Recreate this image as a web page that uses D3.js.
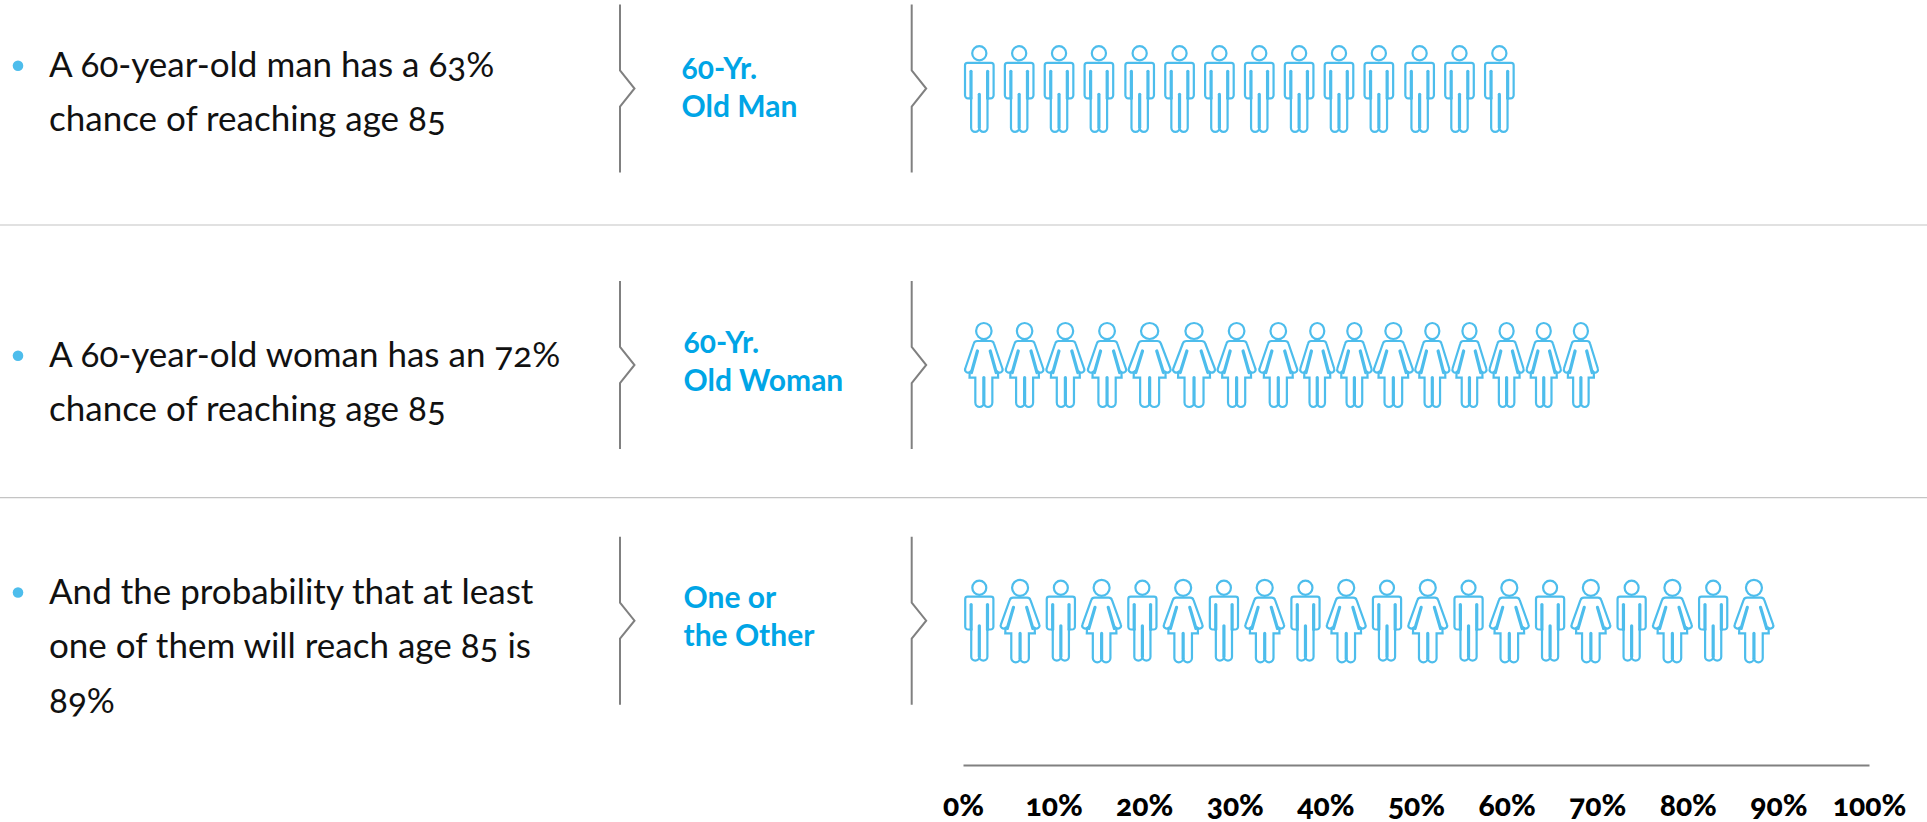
<!DOCTYPE html>
<html>
<head>
<meta charset="utf-8">
<script src="https://cdn.jsdelivr.net/npm/d3@7"></script>
<style>
  html, body { margin: 0; background: #fff; }
  svg { display: block; }
  text { font-family: "Lato", sans-serif; font-variant-numeric: oldstyle-nums; font-feature-settings: "onum" 1; }
</style>
</head>
<body>
<svg id="chart" width="1927" height="822"></svg>
<script>
// values
const rowNames = ["man", "woman", "either"];
const rowNotes = [
    ["A 60-year-old man has a 63%", "chance of reaching age 85"],
    ["A 60-year-old woman has an 72%", "chance of reaching age 85"],
    ["And the probability that at least", "one of them will reach age 85 is", "89%"]
];
const rowLabels = [
    ["60-Yr.", "Old Man"],
    ["60-Yr.", "Old Woman"],
    ["One or", "the Other"]
];
const axisTicks = [0, 10, 20, 30, 40, 50, 60, 70, 80, 90, 100];

// where each figure sits on the percent axis
const manFigures = [1.8, 6.2, 10.6, 15.0, 19.5, 23.9, 28.3, 32.7, 37.1, 41.5, 45.9, 50.4, 54.8, 59.2];
const womanFigures = [2.3, 6.8, 11.3, 15.9, 20.6, 25.5, 30.2, 34.8, 39.1, 43.2, 47.5, 51.8, 55.9, 60.0, 64.1, 68.2];
const womanSpans = [4.12, 4.12, 4.16, 4.19, 4.6, 4.6, 4.16, 4.16, 3.75, 3.79, 4.27, 3.75, 3.75, 3.75, 3.75, 3.75];
const eitherFigures = [1.8, 6.3, 10.8, 15.3, 19.8, 24.3, 28.8, 33.3, 37.8, 42.3, 46.8, 51.3, 55.8, 60.3, 64.8, 69.3, 73.8, 78.3, 82.8, 87.3];
const eitherKinds = ["man", "woman", "man", "woman", "man", "woman", "man", "woman", "man", "woman",
    "man", "woman", "man", "woman", "man", "woman", "man", "woman", "man", "woman"];

const blue = "#4dbdec";
const labelBlue = "#00a5e6";
const grey = "#808080";

const svg = d3.select("#chart");

const x = d3.scaleLinear().domain([0, 100]).range([963, 1869]);
const rowCenter = d3.scaleOrdinal().domain(rowNames).range([88.5, 365, 620.7]);

// one pictogram, drawn around the head center
const manBody = "M-11.8,9.5 H11.8 Q14.3,9.5 14.3,12 V42 A3,3 0 0 1 11.3,45 H8.2 V74.4 A4.1,4.1 0 0 1 0,74.4 A4.1,4.1 0 0 1 -8.2,74.4 V45 H-11.3 A3,3 0 0 1 -14.3,42 V12 Q-14.3,9.5 -11.8,9.5 Z";
const manInner = ["M-8.3,18 V45", "M8.3,18 V45", "M0,41 V74"];
const womanBody = "M-7,10 H7 Q9.6,10 10.4,12.5 L19.2,37.5 A3,3 0 0 1 14.6,41 L14.8,46.6 H8.8 V71.6 A4.4,4.4 0 0 1 0,71.6 A4.4,4.4 0 0 1 -8.8,71.6 V46.6 H-14.8 L-14.6,41 A3,3 0 0 1 -19.2,37.5 L-10.4,12.5 Q-9.6,10 -7,10 Z";
const womanInner = ["M-6.6,20 L-12.8,41.5", "M6.6,20 L12.8,41.5", "M0,46.6 V72"];

function drawFigure(g, kind, cx, headY, sx, sy) {
    const fig = g.append("g").attr("transform", `translate(${cx},${headY})`);
    const r = kind === "man" ? 7.1 : 8;
    fig.append("ellipse")
        .attr("rx", r * sx)
        .attr("ry", r)
        .attr("fill", "none")
        .attr("stroke", blue)
        .attr("stroke-width", 2.2);
    const body = fig.append("g").attr("transform", `scale(${sx},${sy})`);
    body.append("path")
        .attr("d", kind === "man" ? manBody : womanBody)
        .attr("fill", "none")
        .attr("stroke", blue)
        .attr("stroke-width", 2.2)
        .attr("vector-effect", "non-scaling-stroke");
    (kind === "man" ? manInner : womanInner).forEach(function (d) {
        body.append("path")
            .attr("d", d)
            .attr("stroke", blue)
            .attr("stroke-width", 3.2)
            .attr("stroke-linecap", "round")
            .attr("vector-effect", "non-scaling-stroke");
    });
}

// row separators
[225, 497.7].forEach(function (y) {
    svg.append("line")
        .attr("x1", 0).attr("x2", 1927)
        .attr("y1", y).attr("y2", y)
        .attr("stroke", "#c4c4c4")
        .attr("stroke-width", 1.2);
});

rowNames.forEach(function (name, i) {
    const c = rowCenter(name);
    const g = svg.append("g").attr("class", "row-" + name);

    // left hand note
    const firstLine = [c - 11.8, c + 1.7, c - 17.2][i];
    g.append("circle")
        .attr("cx", 18)
        .attr("cy", firstLine - 11)
        .attr("r", 5.3)
        .attr("fill", blue);
    rowNotes[i].forEach(function (line, j) {
        g.append("text")
            .attr("x", 49)
            .attr("y", firstLine + j * 54.5)
            .attr("font-size", 35)
            .attr("fill", "#111")
            .text(line);
    });

    // the two chevron brackets
    [620, 911.7].forEach(function (bx) {
        const line = d3.line();
        g.append("path")
            .attr("d", line([[bx, c - 84], [bx, c - 18], [bx + 14.5, c], [bx, c + 18], [bx, c + 84]]))
            .attr("fill", "none")
            .attr("stroke", grey)
            .attr("stroke-width", 2);
    });

    // row label
    const labelBase = [c - 9.2, c - 12.3, c - 12.7][i];
    rowLabels[i].forEach(function (line, j) {
        g.append("text")
            .attr("x", i === 0 ? 681.5 : 683.5)
            .attr("y", labelBase + j * 38)
            .attr("font-size", 30)
            .attr("font-weight", 700)
            .attr("fill", labelBlue)
            .text(line);
    });

    // pictograms
    if (name === "man") {
        manFigures.forEach(function (p) {
            drawFigure(g, "man", x(p), c - 35.2, 1, 1);
        });
    } else if (name === "woman") {
        womanFigures.forEach(function (p, k) {
            const sx = (x(womanSpans[k]) - x(0)) / 38.6;
            drawFigure(g, "woman", x(p), c - 34, sx, 1);
        });
    } else {
        eitherFigures.forEach(function (p, k) {
            const kind = eitherKinds[k];
            drawFigure(g, kind, x(p), c - 32.9, kind === "man" ? 0.985 : 1, kind === "man" ? 0.927 : 0.98);
        });
    }
});

// percent axis
const axis = d3.axisBottom(x)
    .tickValues(axisTicks)
    .tickFormat(function (d) { return d + "%"; })
    .tickSize(0)
    .tickPadding(0);

const axisG = svg.append("g")
    .attr("transform", "translate(0,765)")
    .call(axis);
axisG.select(".domain")
    .attr("stroke", grey)
    .attr("stroke-width", 2);
axisG.selectAll(".tick text")
    .attr("y", 50.5)
    .attr("dy", 0)
    .attr("font-size", 30)
    .attr("font-weight", 900)
    .attr("fill", "#000")
    .style("font-family", "Lato, sans-serif");
</script>
</body>
</html>
